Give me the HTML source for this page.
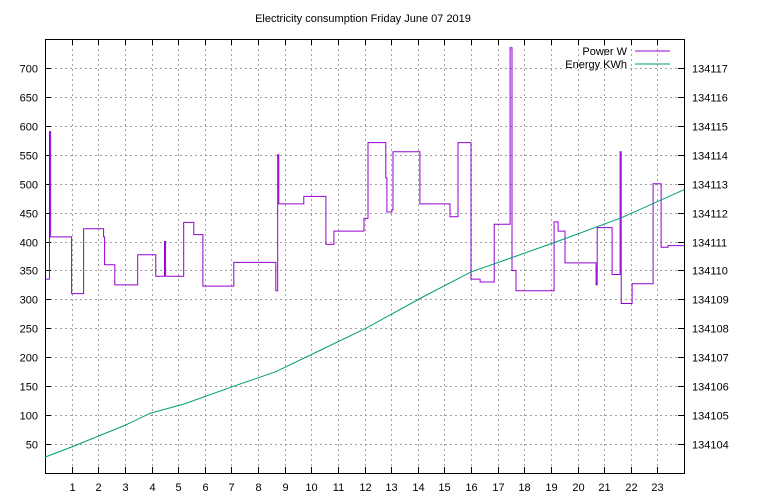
<!DOCTYPE html>
<html><head><meta charset="utf-8"><style>
body{margin:0;background:#fff;}
svg{display:block;font-family:"Liberation Sans",sans-serif;font-size:11px;}
</style></head><body>
<svg id="chart" width="768" height="500">
<text x="363" y="22" text-anchor="middle">Electricity consumption Friday June 07 2019</text>
<g id="grid"></g>
<g id="axes"></g>
<g id="series"></g>
<g>
<text x="627" y="55" text-anchor="end">Power W</text>
<line x1="635" y1="51" x2="670" y2="51" stroke="#9400d3"/>
<text x="627" y="68" text-anchor="end">Energy KWh</text>
<line x1="635" y1="64" x2="670" y2="64" stroke="#009e73"/>
</g>
</svg>
<script>
const powerHours=[0.02,0.17,0.21,1.0,1.45,2.2,2.24,2.62,3.48,4.16,4.49,4.53,5.21,5.59,5.93,7.09,8.67,8.74,8.78,9.72,10.55,10.85,11.98,12.13,12.8,12.84,13.03,13.07,14.08,15.21,15.51,16.0,16.34,16.87,17.47,17.54,17.69,19.12,19.27,19.53,20.7,20.74,21.3,21.6,21.64,22.05,22.84,23.14,23.4];
const powerValues=[335,590,408,310,422,408,360,325,377,340,400,340,433,412,323,364,315,550,465,478,395,418,440,571,510,451,455,555,465,443,571,335,330,430,735,350,315,434,418,363,325,424,343,555,293,327,500,390,393];
const energyHours=[0,1.0,3.03,3.97,5.21,7.09,8.67,10.36,12.05,14.12,16.0,17.5,19.38,21.64,24];
const energyValues=[134103.55,134103.9,134104.66,134105.07,134105.38,134106.0,134106.5,134107.25,134108.0,134109.05,134109.95,134110.43,134111.05,134111.82,134112.79];
const leftTicks=[50,100,150,200,250,300,350,400,450,500,550,600,650,700];
const rightTicks=[134104,134105,134106,134107,134108,134109,134110,134111,134112,134113,134114,134115,134116,134117];
const xTicks=[1,2,3,4,5,6,7,8,9,10,11,12,13,14,15,16,17,18,19,20,21,22,23];

const L=45,R=684,T=39,B=473;
const NS="http://www.w3.org/2000/svg";
const xs=h=>L+(h/24)*(R-L);
const ys=v=>B-(v/750)*(B-T);
const ys2=v=>B-((v-134103)/15)*(B-T);
function mk(tag,attrs,parent,text){const e=document.createElementNS(NS,tag);for(const k in attrs)e.setAttribute(k,attrs[k]);if(text!==undefined)e.textContent=text;parent.appendChild(e);return e;}
const grid=document.getElementById('grid'),axes=document.getElementById('axes'),series=document.getElementById('series');
leftTicks.forEach(v=>{
 const y=Math.round(ys(v))+0.5;
 const g=mk('line',{x1:L,x2:R,y1:y,y2:y,stroke:'#a0a0a0','stroke-dasharray':'2,3'},grid);
 
 
 mk('line',{x1:L,x2:L+6,y1:y,y2:y,stroke:'#000'},axes);
 const t=mk('text',{x:38,y:y+4,'text-anchor':'end'},axes,String(v));
 
 
});
rightTicks.forEach(v=>{
 const y=Math.round(ys2(v))+0.5;
 mk('line',{x1:R-6,x2:R,y1:y,y2:y,stroke:'#000'},axes);
 const t=mk('text',{x:692,y:y+4},axes,String(v));
 
 
});
xTicks.forEach(h=>{
 const x=Math.round(xs(h))+0.5;
 const g=mk('line',{x1:x,x2:x,y1:T,y2:B,stroke:'#a0a0a0','stroke-dasharray':'2,3'},grid);
 
 
 mk('line',{x1:x,x2:x,y1:B,y2:B-6,stroke:'#000'},axes);
 mk('line',{x1:x,x2:x,y1:T,y2:T+6,stroke:'#000'},axes);
 const t=mk('text',{x:x,y:491,'text-anchor':'middle'},axes,String(h));
 
 
});
const frame=mk('rect',{x:L+0.5,y:T+0.5,width:R-L,height:B-T,fill:'none',stroke:'#000'},axes);


let d='';
powerHours.forEach((h,i)=>{
 const x=xs(h),y=ys(powerValues[i]);
 const nx=i+1<powerHours.length?xs(powerHours[i+1]):R;
 d+=(i===0?'M':'L')+x.toFixed(1)+','+y.toFixed(1)+'L'+nx.toFixed(1)+','+y.toFixed(1);
});
const pl=mk('path',{d:d,fill:'none',stroke:'#9400d3','stroke-width':1},series);


let e='';
energyHours.forEach((h,i)=>{e+=(i===0?'M':'L')+xs(h).toFixed(1)+','+ys2(energyValues[i]).toFixed(1);});
const el=mk('path',{d:e,fill:'none',stroke:'#009e73','stroke-width':1},series);


</script>
</body></html>
